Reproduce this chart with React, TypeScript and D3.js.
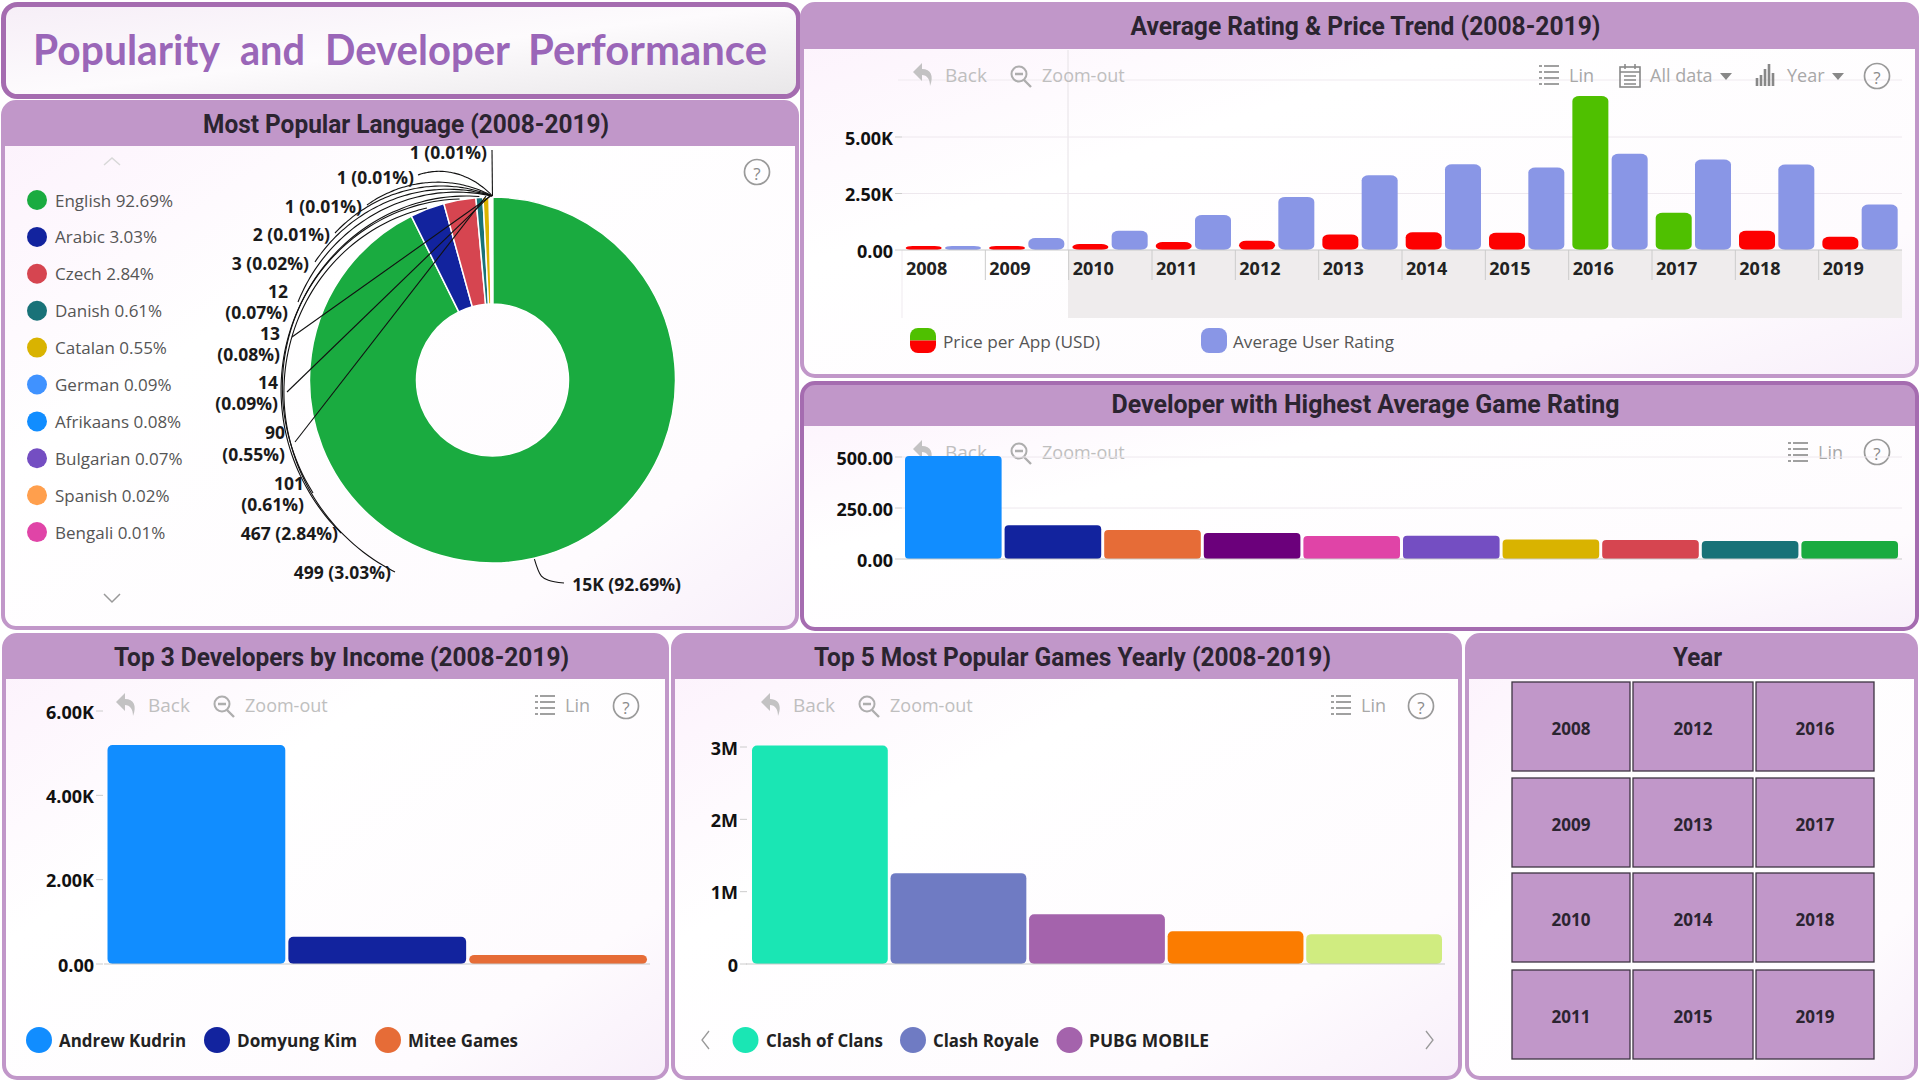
import React from "react";
import * as d3 from "d3";

const languages = ["English","Arabic","Czech","Danish","Catalan","German","Afrikaans","Bulgarian","Spanish","Bengali","Unlisted A","Unlisted B","Unlisted C"];
const languageCounts = [15256,499,467,101,90,14,13,12,3,2,1,1,1];
const languageCountText = ["15K","499","467","101","90","14","13","12","3","2","1","1","1"];
const languageColors = ["#1aab40","#12239e","#d64550","#197278","#d9b300","#4092ff","#118dff","#744ec2","#ff9f4d","#e044a7","#6b007b","#e66c37","#12239e"];

const years = ["2008","2009","2010","2011","2012","2013","2014","2015","2016","2017","2018","2019"];
const pricePerApp = [176,176,265,353,412,690,780,765,6810,1650,850,590];
const avgUserRating = [176,530,850,1545,2350,3310,3790,3650,4260,4000,3780,2015];
const ratingTicks = [0,2500,5000];

const developerRanks = ["1","2","3","4","5","6","7","8","9","10"];
const developerRatings = [505,165,142,127,113,114,95,93,88,88];
const developerColors = ["#118dff","#12239e","#e66c37","#6b007b","#e044a7","#744ec2","#d9b300","#d64550","#197278","#1aab40"];
const developerTicks = [0,250,500];

const incomeDevelopers = ["Andrew Kudrin","Domyung Kim","Mitee Games"];
const incomeValues = [5195,648,213];
const incomeColors = ["#118dff","#12239e","#e66c37"];
const incomeTicks = [0,2000,4000,6000];

const games = ["Clash of Clans","Clash Royale","PUBG MOBILE","Game 4","Game 5"];
const gameInstalls = [3020000,1256000,688000,454000,413000];
const gameColors = ["#1ae6b4","#6f7bc3","#a463ac","#fb7c00","#d0ec80"];
const gameTicks = [0,1000000,2000000,3000000];

const titleWords = ["Popularity","and","Developer","Performance"];
const titleWordX = [33,240,325,528];
const titleWordW = [187,65,185,239];

const FONT = "'Open Sans', 'Noto Sans', sans-serif";
const HEAD = "Roboto, sans-serif";
const PANEL = "#c197c9";
const PANEL_DARK = "#a56cb0";
const INK = "#2b2430";

// label layout for the donut: right edge, line y positions, leader end
const labelLayout: any[] = [
  { x: 681, ys: [584], end: [564, 583], kind: "curve" },
  { x: 391, ys: [572], end: [395, 572], kind: "arc" },
  { x: 338, ys: [533], end: [341, 533], kind: "arc" },
  { x: 304, ys: [483, 504], end: [313, 493], kind: "arc" },
  { x: 285, ys: [432, 454], end: [295, 442], kind: "line" },
  { x: 278, ys: [382, 403], end: [287, 392], kind: "line" },
  { x: 280, ys: [333, 354], end: [292, 337], kind: "line" },
  { x: 288, ys: [291, 312], end: [298, 302], kind: "arc" },
  { x: 309, ys: [263], end: [315, 262], kind: "arc" },
  { x: 330, ys: [234], end: [335, 233], kind: "arc" },
  { x: 362, ys: [206], end: [367, 205], kind: "arc" },
  { x: 414, ys: [177], end: [418, 175], kind: "arc" },
  { x: 487, ys: [152], end: [492, 150], kind: "line" },
];

function Panel({ x, y, w, h, head, title, tw, stroke = PANEL, sw = 4 }: any) {
  const id = `clip${x}${y}`;
  return (
    <g>
      <clipPath id={id}><rect x={x} y={y} width={w} height={h} rx={13} /></clipPath>
      <rect x={x} y={y} width={w} height={h} rx={13} fill="url(#panelBg)" />
      <g clipPath={`url(#${id})`}>
        <rect x={x} y={y} width={w} height={head} fill={PANEL} />
      </g>
      <rect x={x} y={y} width={w} height={h} rx={13} fill="none" stroke={stroke} strokeWidth={sw} />
      <text x={x + w / 2 + 6} y={y + head / 2} textAnchor="middle" dominantBaseline="central" fontFamily={HEAD} fontWeight={700} fontSize={25}
        fill={INK} textLength={tw} lengthAdjust="spacingAndGlyphs">{title}</text>
    </g>
  );
}

function Help({ x, y }: any) {
  return (
    <g>
      <circle cx={x} cy={y} r={12.5} fill="none" stroke="#9a9a9a" strokeWidth={1.7} />
      <text x={x} y={y + 1} textAnchor="middle" dominantBaseline="central" fontFamily={FONT} fontSize={17} fill="#8a8a8a">?</text>
    </g>
  );
}
function BackZoom({ x, y }: any) {
  return (
    <g opacity={0.95}>
      <path transform={`translate(${x},${y})`} d="M-10 -3 L-1 -12 L-1 -6 C8 -6 11 1 7 11 C7 4 4 0 -1 0 L-1 6 Z" fill="#c0c0c0" />
      <text x={x + 22} y={y} dominantBaseline="central" fontFamily={FONT} fontSize={19} fill="#bcbcbc">Back</text>
      <circle cx={x + 96} cy={y - 1} r={7.5} fill="none" stroke="#aaa" strokeWidth={2} />
      <path d={`M${x + 92} ${y - 1}h8M${x + 101} ${y + 5}l7 7`} stroke="#aaa" strokeWidth={2.4} fill="none" />
      <text x={x + 119} y={y} dominantBaseline="central" fontFamily={FONT} fontSize={18} fill="#bcbcbc">Zoom-out</text>
    </g>
  );
}
function Lin({ x, y }: any) {
  return (
    <g>
      <path d={d3.range(4).map((i) => `M${x - 10} ${y - 9 + i * 6}h3M${x - 5} ${y - 9 + i * 6}h15`).join("")} stroke="#a0a0a0" strokeWidth={1.8} fill="none" />
      <text x={x + 20} y={y} dominantBaseline="central" fontFamily={FONT} fontSize={18} fill="#a8a8a8">Lin</text>
    </g>
  );
}
function Legend({ items, colors, y, xs, tx, tw }: any) {
  return (
    <g>
      {items.map((t: string, i: number) => (
        <g key={t}>
          <circle cx={xs[i]} cy={y} r={13} fill={colors[i]} />
          <text x={tx[i]} y={y} dominantBaseline="central" fontFamily={FONT} fontWeight={700} fontSize={17} fill="#222" textLength={tw[i]} lengthAdjust="spacingAndGlyphs">{t}</text>
        </g>
      ))}
    </g>
  );
}
function YAxis({ ticks, y, fmt, right, gridFrom, gridTo, grid = true }: any) {
  return (
    <g>
      {ticks.map((t: number) => (
        <g key={t}>
          {grid && t !== 0 && <line x1={gridFrom} x2={gridTo} y1={y(t)} y2={y(t)} stroke="#eee8ee" />}
          <line x1={right + 2} x2={right + 9} y1={y(t)} y2={y(t)} stroke="#ccc" />
          <text x={right} y={y(t) + 0.5} textAnchor="end" dominantBaseline="central" fontFamily={FONT} fontWeight={700} fontSize={18} fill="#111">{fmt(t)}</text>
        </g>
      ))}
    </g>
  );
}

function Donut() {
  const cx = 492.5, cy = 380, R = 183, r0 = 76;
  const pie = d3.pie<number>().sort(null).value((d) => d);
  const arcs = pie(languageCounts);
  const arc = d3.arc<any>().innerRadius(r0).outerRadius(R);
  const total = d3.sum(languageCounts);
  const pct = (v: number) => ((v / total) * 100).toFixed(2) + "%";
  const line = d3.line<number[]>();
  const curve = d3.line<number[]>().curve(d3.curveCatmullRom);
  const toXY = (th: number, r: number) => [cx + r * Math.sin(th), cy - r * Math.cos(th)];
  const leader = (a: any, l: any) => {
    const mid = (a.startAngle + a.endAngle) / 2;
    const start = toXY(mid, R + 1);
    if (l.kind === "line") return line([start, l.end])!;
    if (l.kind === "curve") return curve([start, [start[0] + 7, start[1] + 17], [start[0] + 14, start[1] + 21], l.end])!;
    const dx = l.end[0] - cx, dy = l.end[1] - cy;
    const th1 = Math.atan2(dx, -dy);
    const th0 = mid - 2 * Math.PI;
    const r1 = Math.hypot(dx, dy);
    const pts = d3.range(0, 41).map((i) => {
      const t = i / 40;
      return toXY(th0 + (th1 - th0) * t, R + 1 + (r1 - R - 1) * d3.easeQuadOut(t));
    });
    return curve(pts)!;
  };
  return (
    <g>
      <g transform={`translate(${cx},${cy})`}>
        {arcs.map((a, i) => <path key={languages[i]} d={arc(a)!} fill={languageColors[i]} stroke="#fff" strokeWidth={1.5} />)}
      </g>
      {arcs.map((a, i) => <path key={i} d={leader(a, labelLayout[i])} fill="none" stroke="#111" strokeWidth={1.1} />)}
      {languageCounts.map((v, i) => {
        const l = labelLayout[i];
        const lines = l.ys.length === 2 ? [languageCountText[i], `(${pct(v)})`] : [`${languageCountText[i]} (${pct(v)})`];
        return lines.map((t: string, j: number) => (
          <text key={`${i}-${j}`} x={l.x} y={l.ys[j]} textAnchor="end" dominantBaseline="central" fontFamily={FONT} fontWeight={700} fontSize={17.5} fill="#1a1a1a">{t}</text>
        ));
      })}
      {languages.slice(0, 10).map((n, i) => (
        <g key={n}>
          <circle cx={37} cy={200 + i * 36.9} r={10} fill={languageColors[i]} />
          <text x={55} y={200 + i * 36.9} dominantBaseline="central" fontFamily={FONT} fontSize={17} fill="#555">{`${n} ${pct(languageCounts[i])}`}</text>
        </g>
      ))}
      <path d="M104 165l8-7 8 7" fill="none" stroke="#d8d8d8" strokeWidth={1.5} />
      <path d="M104 594l8 8 8-8" fill="none" stroke="#999" strokeWidth={1.5} />
      <Help x={757} y={172} />
    </g>
  );
}

function RatingChart() {
  const y = d3.scaleLinear().domain([0, 5000]).range([250, 137]);
  const x = d3.scaleBand().domain(years).range([902, 1902]);
  const bw = 36;
  const fmt = (v: number) => (v === 0 ? "0.00" : (v / 1000).toFixed(2) + "K");
  return (
    <g>
      <rect x={1068} y={250} width={834} height={68} fill="#efeced" />
      <line x1={1068} x2={1068} y1={50} y2={250} stroke="#e6e2e6" />
      <line x1={902} x2={902} y1={250} y2={318} stroke="#efeaef" />
      <line x1={898} x2={1902} y1={80} y2={80} stroke="#efeaef" />
      <BackZoom x={923} y={75} />
      <Lin x={1549} y={75} />
      <g>
        <rect x={1620} y={67} width={20} height={20} fill="none" stroke="#888" strokeWidth={1.6} />
        <path d="M1620 72h20M1625 64v5M1635 64v5M1624 76h12M1624 80h12M1624 84h12" stroke="#888" strokeWidth={1.5} fill="none" />
        <text x={1650} y={75} dominantBaseline="central" fontFamily={FONT} fontSize={18} fill="#a8a8a8">All data</text>
        <path d="M1720 73h12l-6 7z" fill="#888" />
        <path d="M1757 86v-8M1761 86v-11M1765 86v-17M1769 86v-22M1773 86v-13" stroke="#888" strokeWidth={2.6} fill="none" />
        <text x={1787} y={75} dominantBaseline="central" fontFamily={FONT} fontSize={18} fill="#a8a8a8">Year</text>
        <path d="M1832 73h12l-6 7z" fill="#888" />
      </g>
      <Help x={1877} y={76} />
      <YAxis ticks={ratingTicks} y={y} fmt={fmt} right={893} gridFrom={902} gridTo={1902} />
      {years.map((yr, i) => {
        const gx = x(yr)!;
        return (
          <g key={yr}>
            {i > 0 && <line x1={gx} x2={gx} y1={250} y2={280} stroke="#ccc" />}
            <rect x={gx + 3.7} y={y(pricePerApp[i])} width={bw} height={250 - y(pricePerApp[i])} rx={7} ry={Math.min(5, (250 - y(pricePerApp[i])) / 2)} fill={pricePerApp[i] > 1500 ? "#4fc000" : "#fd0000"} />
            <rect x={gx + 43} y={y(avgUserRating[i])} width={bw} height={250 - y(avgUserRating[i])} rx={7} ry={Math.min(5, (250 - y(avgUserRating[i])) / 2)} fill="#8996e6" />
            <text x={gx + 4} y={268} dominantBaseline="central" fontFamily={FONT} fontWeight={700} fontSize={18} fill="#222">{yr}</text>
          </g>
        );
      })}
      <line x1={902} x2={1902} y1={250} y2={250} stroke="#c9c9c9" />
      <g>
        <clipPath id="pill"><rect x={910} y={328} width={26} height={25} rx={8} /></clipPath>
        <g clipPath="url(#pill)">
          <rect x={910} y={328} width={26} height={12.5} fill="#4fc000" />
          <rect x={910} y={340.5} width={26} height={12.5} fill="#fd0000" />
        </g>
        <text x={943} y={341} dominantBaseline="central" fontFamily={FONT} fontSize={16.5} fill="#555" textLength={157} lengthAdjust="spacingAndGlyphs">Price per App (USD)</text>
        <rect x={1201} y={328} width={26} height={25} rx={8} fill="#8996e6" />
        <text x={1233} y={341} dominantBaseline="central" fontFamily={FONT} fontSize={16.5} fill="#555" textLength={161} lengthAdjust="spacingAndGlyphs">Average User Rating</text>
      </g>
    </g>
  );
}

function DeveloperChart() {
  const y = d3.scaleLinear().domain([0, 500]).range([559, 457]);
  const x = d3.scaleBand().domain(developerRanks).range([905, 1898]).paddingInner(0.03);
  return (
    <g>
      <BackZoom x={923} y={452} />
      <Lin x={1798} y={452} />
      <Help x={1877} y={452} />
      <YAxis ticks={developerTicks} y={y} fmt={(v: number) => v.toFixed(2)} right={893} gridFrom={902} gridTo={1902} />
      {developerRanks.map((d, i) => (
        <rect key={d} x={x(d)} y={y(developerRatings[i])} width={x.bandwidth()} height={559 - y(developerRatings[i])} rx={4} fill={developerColors[i]} />
      ))}
      <line x1={902} x2={1902} y1={559} y2={559} stroke="#c9c9c9" />
    </g>
  );
}

function IncomeChart() {
  const y = d3.scaleLinear().domain([0, 6000]).range([964, 711]);
  const x = d3.scaleBand().domain(incomeDevelopers).range([107.5, 647]).paddingInner(0.017);
  const fmt = (v: number) => (v === 0 ? "0.00" : (v / 1000).toFixed(2) + "K");
  return (
    <g>
      <BackZoom x={126} y={705} />
      <Lin x={545} y={705} />
      <Help x={626} y={706} />
      <YAxis ticks={incomeTicks} y={y} fmt={fmt} right={94} grid={false} />
      {incomeDevelopers.map((d, i) => (
        <rect key={d} x={x(d)} y={y(incomeValues[i])} width={x.bandwidth()} height={964 - y(incomeValues[i])} rx={5} fill={incomeColors[i]} />
      ))}
      <line x1={104} x2={650} y1={964} y2={964} stroke="#c9c9c9" />
      <Legend items={incomeDevelopers} colors={incomeColors} y={1040} xs={[39, 217, 388]} tx={[59, 237, 408]} tw={[127, 120, 110]} />
    </g>
  );
}

function GamesChart() {
  const y = d3.scaleLinear().domain([0, 3000000]).range([964, 747]);
  const x = d3.scaleBand().domain(games).range([752, 1442]).paddingInner(0.02);
  return (
    <g>
      <BackZoom x={771} y={705} />
      <Lin x={1341} y={705} />
      <Help x={1421} y={706} />
      <YAxis ticks={gameTicks} y={y} fmt={(v: number) => (v === 0 ? "0" : v / 1000000 + "M")} right={738} grid={false} />
      {games.map((d, i) => (
        <rect key={d} x={x(d)} y={y(gameInstalls[i])} width={x.bandwidth()} height={964 - y(gameInstalls[i])} rx={5} fill={gameColors[i]} />
      ))}
      <line x1={746} x2={1445} y1={964} y2={964} stroke="#c9c9c9" />
      <path d="M709 1031l-7 9 7 9M1426 1031l7 9-7 9" fill="none" stroke="#999" strokeWidth={1.3} />
      <Legend items={games.slice(0, 3)} colors={gameColors} y={1040} xs={[745.5, 913, 1069.5]} tx={[766, 933, 1089]} tw={[117, 106, 120]} />
    </g>
  );
}

function YearSlicer() {
  const cols = [1512, 1633, 1756];
  const widths = [118, 120, 118];
  const rows = [682, 778, 873, 970];
  return (
    <g>
      {years.map((yr, i) => {
        const c = Math.floor(i / 4), r = i % 4;
        return (
          <g key={yr}>
            <rect x={cols[c]} y={rows[r]} width={widths[c]} height={89} fill={PANEL} stroke="#3e3442" strokeWidth={1.3} />
            <text x={cols[c] + widths[c] / 2} y={rows[r] + 46} textAnchor="middle" dominantBaseline="central" fontFamily={FONT} fontWeight={700} fontSize={17} fill={INK}>{yr}</text>
          </g>
        );
      })}
    </g>
  );
}

export default function App() {
  return (
    <svg width={1920} height={1080} viewBox="0 0 1920 1080" style={{ position: "absolute", left: 0, top: 0, background: "#fff" }}>
      <defs>
        <linearGradient id="panelBg" x1="0" y1="0" x2="1" y2="1">
          <stop offset="0" stopColor="#fcf1fc" />
          <stop offset="0.35" stopColor="#ffffff" />
          <stop offset="0.8" stopColor="#fefbfe" />
          <stop offset="1" stopColor="#f8effa" />
        </linearGradient>
        <linearGradient id="titleBg" x1="0" y1="0" x2="1" y2="1">
          <stop offset="0" stopColor="#f6eef7" />
          <stop offset="0.5" stopColor="#fdfbfd" />
          <stop offset="1" stopColor="#e8e6e8" />
        </linearGradient>
      </defs>
      <rect x={3.5} y={4.5} width={795} height={92} rx={14} fill="url(#titleBg)" stroke={PANEL_DARK} strokeWidth={5} />
      {titleWords.map((w, i) => (
        <text key={w} x={titleWordX[i]} y={49} dominantBaseline="central" fontFamily="Lato, sans-serif" fontWeight={700} fontSize={42} fill="#9a66b8" textLength={titleWordW[i]} lengthAdjust="spacingAndGlyphs">{w}</text>
      ))}

      <Panel x={3} y={102} w={794} h={526} head={44} title="Most Popular Language (2008-2019)" tw={406} />
      <Panel x={802} y={4} w={1115} h={372} head={45} title="Average Rating & Price Trend (2008-2019)" tw={470} />
      <Panel x={802} y={383} w={1115} h={246} head={43} title="Developer with Highest Average Game Rating" tw={508} stroke={PANEL_DARK} />
      <Panel x={4} y={635} w={663} h={443} head={44} title="Top 3 Developers by Income (2008-2019)" tw={455} />
      <Panel x={673} y={635} w={787} h={443} head={44} title="Top 5 Most Popular Games Yearly (2008-2019)" tw={517} />
      <Panel x={1467} y={635} w={449} h={443} head={44} title="Year" tw={49} />

      <Donut />
      <RatingChart />
      <DeveloperChart />
      <IncomeChart />
      <GamesChart />
      <YearSlicer />
    </svg>
  );
}
